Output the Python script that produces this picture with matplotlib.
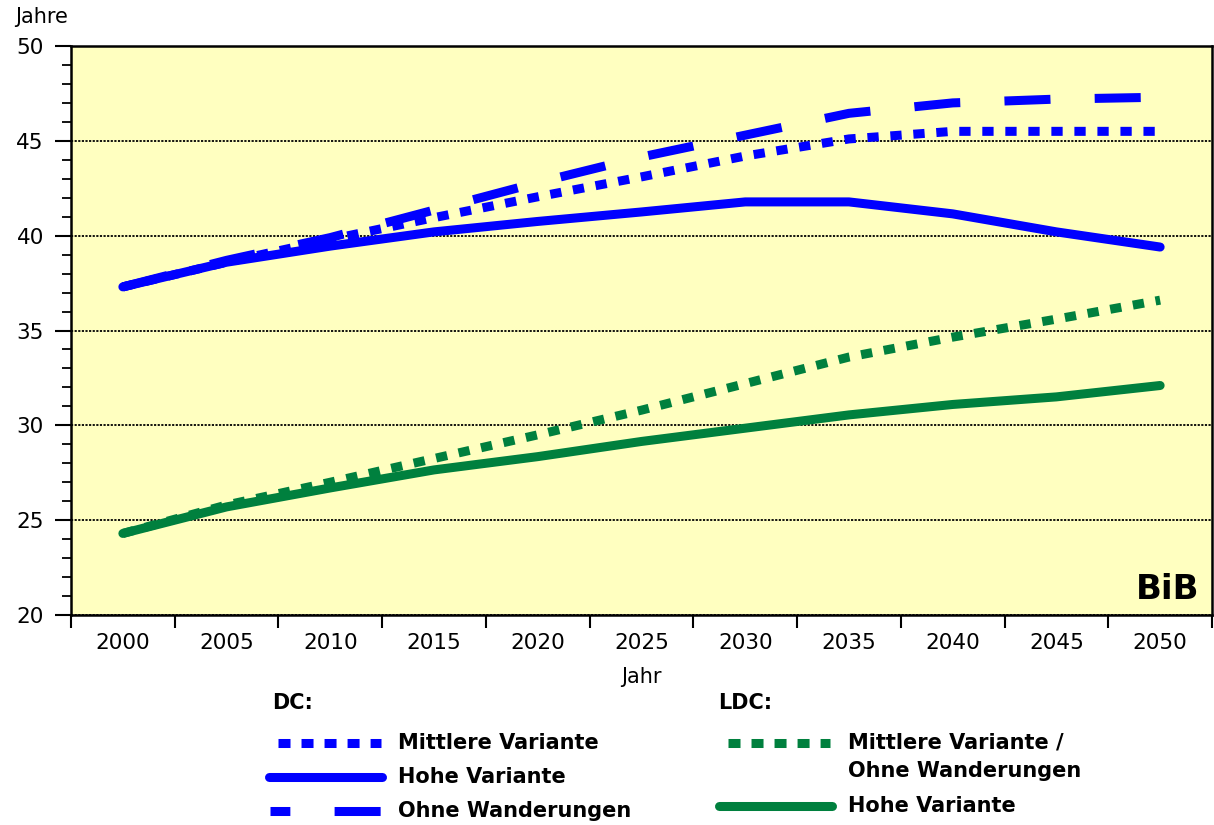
import matplotlib
matplotlib.use("Agg")
import matplotlib.pyplot as plt
from matplotlib.lines import Line2D
from matplotlib.ticker import MultipleLocator, FixedLocator, NullFormatter, FixedFormatter

plt.rcParams['font.family'] = ['DejaVu Sans']

# Median age (years), developed (DC) and less developed countries (LDC)
years = ["2000", "2005", "2010", "2015", "2020", "2025",
         "2030", "2035", "2040", "2045", "2050"]
dc_mittlere = [37.3, 38.6, 39.8, 40.95, 42.05, 43.1, 44.2, 45.1, 45.5, 45.5, 45.5]
dc_hohe = [37.3, 38.6, 39.45, 40.2, 40.75, 41.25, 41.78, 41.78, 41.15, 40.2, 39.4]
dc_ohne = [37.3, 38.7, 39.9, 41.35, 42.8, 44.15, 45.3, 46.45, 47.0, 47.2, 47.3]
ldc_mittlere = [24.3, 25.8, 27.0, 28.25, 29.5, 30.8, 32.2, 33.6, 34.65, 35.6, 36.6]
ldc_hohe = [24.3, 25.7, 26.7, 27.65, 28.35, 29.15, 29.85, 30.55, 31.1, 31.5, 32.1]

BLUE = '#0000FF'
GREEN = '#00803E'
BG = '#FFFFC0'
LW = 6.5
DOT = (0, (1.25, 1.3))
DASH = (0, (5.1, 4.9))

W, H = 1214, 825
fig = plt.figure(figsize=(W / 100, H / 100), dpi=100)
ax = fig.add_axes([71 / W, (H - 615) / H, (1212 - 71) / W, (615 - 46) / H])
ax.set_facecolor(BG)

x = list(range(len(years)))
ax.plot(x, ldc_hohe, color=GREEN, lw=LW, solid_capstyle='round', zorder=3)
ax.plot(x, ldc_mittlere, color=GREEN, lw=LW, linestyle=DOT,
        dash_capstyle='butt', zorder=3)
ax.plot(x, dc_ohne, color=BLUE, lw=LW, linestyle=DASH,
        dash_capstyle='butt', zorder=3)
ax.plot(x, dc_hohe, color=BLUE, lw=LW, solid_capstyle='round', zorder=4)
ax.plot(x, dc_mittlere, color=BLUE, lw=LW, linestyle=DOT,
        dash_capstyle='butt', zorder=4)

ax.set_xlim(-0.5, len(years) - 0.5)
ax.set_ylim(20, 50)

# x axis: tick marks between categories, labels centred on categories
ax.xaxis.set_major_locator(FixedLocator([i - 0.5 for i in range(len(years) + 1)]))
ax.xaxis.set_major_formatter(NullFormatter())
ax.xaxis.set_minor_locator(FixedLocator(x))
ax.xaxis.set_minor_formatter(FixedFormatter(years))
ax.tick_params(axis='x', which='major', direction='out', length=9.5, width=1.5)
ax.tick_params(axis='x', which='minor', length=0, pad=13, labelsize=15.5)

ax.yaxis.set_major_locator(MultipleLocator(5))
ax.yaxis.set_minor_locator(MultipleLocator(1))
ax.tick_params(axis='y', which='major', direction='out', length=11.5,
               width=1.5, pad=8, labelsize=15.5)
ax.tick_params(axis='y', which='minor', direction='out', length=6.5, width=1.3)

for s in ax.spines.values():
    s.set_linewidth(1.8)
    s.set_color('black')

ax.grid(axis='y', which='major', color='black', lw=1.3,
        linestyle=(0, (1.2, 0.8)), zorder=1)
ax.set_axisbelow(True)

ax.text(0.989, 0.028, 'BiB', transform=ax.transAxes, ha='right', va='baseline',
        fontsize=24.5, fontweight='bold')

fig.text(42 / W, 1 - 17 / H, 'Jahre', ha='center', va='center', fontsize=15)
fig.text(641 / W, 1 - 677 / H, 'Jahr', ha='center', va='center', fontsize=15)


def fx(px):
    return px / W


def fy(py):
    return 1 - py / H


def sample(x0, x1, y, color, ls, cap):
    kw = dict(color=color, lw=LW, transform=fig.transFigure)
    if ls == '-':
        kw.update(solid_capstyle=cap)
    else:
        kw.update(linestyle=ls, dash_capstyle=cap)
    fig.add_artist(Line2D([fx(x0), fx(x1)], [fy(y), fy(y)], **kw))


LEG = dict(fontsize=15, fontweight='bold', va='center', ha='left')

fig.text(fx(272), fy(703), 'DC:', **LEG)
sample(278, 381, 743, BLUE, (0, (1.33, 1.22)), 'butt')
fig.text(fx(398), fy(743), 'Mittlere Variante', **LEG)
sample(269, 382, 777, BLUE, '-', 'round')
fig.text(fx(398), fy(777), 'Hohe Variante', **LEG)
sample(270, 381, 811, BLUE, (0, (2.2, 4.9, 5.1)), 'butt')
fig.text(fx(398), fy(811), 'Ohne Wanderungen', **LEG)

fig.text(fx(718), fy(703), 'LDC:', **LEG)
sample(728, 830, 743, GREEN, (0, (1.33, 1.22)), 'butt')
fig.text(fx(848), fy(743), 'Mittlere Variante /', **LEG)
fig.text(fx(848), fy(771), 'Ohne Wanderungen', **LEG)
sample(719, 832, 806, GREEN, '-', 'round')
fig.text(fx(848), fy(806), 'Hohe Variante', **LEG)

fig.savefig('out.png', dpi=100, facecolor='white')
